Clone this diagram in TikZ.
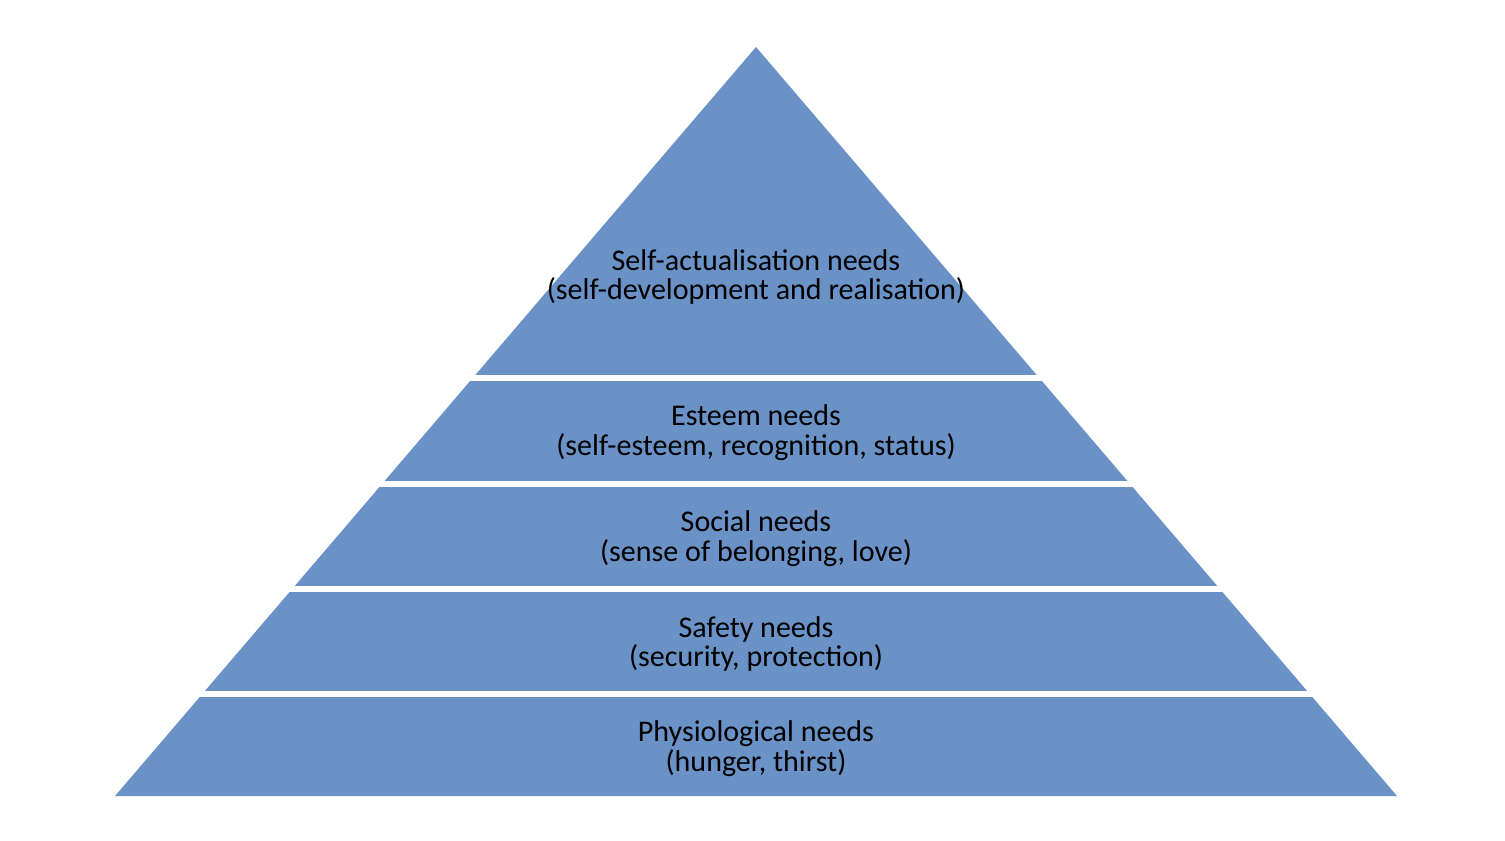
\documentclass[tikz,border=0pt]{standalone}
\usepackage{fontspec}
\setmainfont{Carlito}
\definecolor{pyrblue}{RGB}{106,146,198}

\begin{document}
\begin{tikzpicture}[level/.style={align=center,font=\fontsize{8.55}{8.5}\selectfont}]
      \useasboundingbox (0,0) rectangle (15.05,8.40);
      \fill[pyrblue] (1.15,0.44) -- (7.56,7.93) -- (13.97,0.44) -- cycle;
      % white gaps between the levels
      \foreach \y in {1.46,2.51,3.56,4.62}
        \draw[white,line width=0.06cm] (0.5,\y) -- (14.5,\y);
      \node[level] (self) at (7.56,5.63) {Self-actualisation needs\\(self-development and realisation)};
      \node[level] (esteem) at (7.56,4.07) {Esteem needs\\(self-esteem, recognition, status)};
      \node[level] (social) at (7.56,3.01) {Social needs\\(sense of belonging, love)};
      \node[level] (safety) at (7.56,1.96) {Safety needs\\(security, protection)};
      \node[level] (physio) at (7.56,0.91) {Physiological needs\\(hunger, thirst)};
    \end{tikzpicture}
\end{document}
